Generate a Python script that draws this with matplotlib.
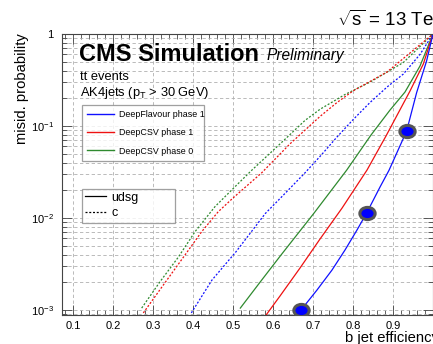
import matplotlib.pyplot as plt
from matplotlib.lines import Line2D
from matplotlib.path import Path
from matplotlib.transforms import Affine2D
from matplotlib.ticker import MultipleLocator, LogLocator, NullFormatter

plt.rcParams['font.family'] = ['Liberation Sans', 'DejaVu Sans']
plt.rcParams['mathtext.fontset'] = 'custom'
plt.rcParams['mathtext.rm'] = 'Liberation Sans'
plt.rcParams['mathtext.it'] = 'Liberation Sans:italic'
plt.rcParams['mathtext.bf'] = 'Liberation Sans:bold'

# b-tag efficiency vs misid probability
deepflav_udsg_eff = [0.660, 0.670, 0.710, 0.7475, 0.780, 0.810, 0.834, 0.8675, 0.890, 0.934, 0.959, 0.984, 1.0]
deepflav_udsg_mis = [0.00088, 0.0010, 0.00165, 0.00272, 0.00449, 0.00741, 0.0113, 0.0217, 0.033, 0.088, 0.23, 0.51, 1.0]
deepflav_c_eff = [0.3958, 0.4475, 0.5075, 0.5808, 0.630, 0.680, 0.720, 0.760, 0.800, 0.8425, 0.885, 0.9258, 0.9675, 1.0]
deepflav_c_mis = [0.00093, 0.00212, 0.0043, 0.0112, 0.0185, 0.031, 0.048, 0.076, 0.117, 0.18, 0.265, 0.367, 0.60, 1.0]

csv1_udsg_eff = [0.5825, 0.6175, 0.6675, 0.7175, 0.7725, 0.835, 0.8825, 0.9425, 0.9758, 1.0]
csv1_udsg_mis = [0.00088, 0.00142, 0.00286, 0.00591, 0.0128, 0.0332, 0.0779, 0.24, 0.472, 1.0]
csv1_c_eff = [0.2758, 0.3258, 0.3758, 0.4217, 0.463, 0.500, 0.5717, 0.6425, 0.7175, 0.760, 0.8008, 0.8842, 1.0]
csv1_c_mis = [0.00093, 0.00187, 0.00374, 0.0071, 0.0117, 0.0165, 0.031, 0.064, 0.127, 0.18, 0.242, 0.384, 1.0]

csv0_udsg_eff = [0.5183, 0.570, 0.620, 0.7025, 0.7843, 0.845, 0.8925, 0.930, 0.9675, 1.0]
csv0_udsg_mis = [0.00105, 0.00207, 0.00396, 0.0113, 0.0332, 0.0798, 0.149, 0.234, 0.449, 1.0]
csv0_c_eff = [0.2717, 0.3175, 0.363, 0.405, 0.455, 0.5008, 0.5467, 0.6258, 0.680, 0.7175, 0.780, 0.8425, 0.9258, 1.0]
csv0_c_mis = [0.00105, 0.00203, 0.00374, 0.0071, 0.0133, 0.021, 0.033, 0.069, 0.115, 0.152, 0.22, 0.30, 0.49, 1.0]

# working points on the DeepFlavour udsg curve
wp_eff = [0.670, 0.834, 0.934]
wp_mis = [0.0010, 0.0113, 0.088]

taggers = ["DeepFlavour phase 1", "DeepCSV phase 1", "DeepCSV phase 0"]
flavours = ["udsg", "c"]
xtick_vals = [0.1, 0.2, 0.3, 0.4, 0.5, 0.6, 0.7, 0.8, 0.9]
ytick_vals = [1e-3, 1e-2, 1e-1, 1]
ytick_labels = [r'$10^{-3}$', r'$10^{-2}$', r'$10^{-1}$', '1']

W, H = 433, 344
fig = plt.figure(figsize=(W / 100, H / 100), dpi=100)
ax = fig.add_axes([62 / W, 1 - 315 / H, 1 - 62 / W, (315 - 34) / H])

blue, red, green = '#1010ff', '#ee1111', '#2f8a2f'
dot = (0, (1.6, 1.4))
lw = 0.9

ax.plot(csv0_c_eff, csv0_c_mis, color=green, lw=lw, ls=dot)
ax.plot(csv1_c_eff, csv1_c_mis, color=red, lw=lw, ls=dot)
ax.plot(deepflav_c_eff, deepflav_c_mis, color=blue, lw=lw, ls=dot)
ax.plot(csv0_udsg_eff, csv0_udsg_mis, color=green, lw=lw)
ax.plot(csv1_udsg_eff, csv1_udsg_mis, color=red, lw=lw)
ax.plot(deepflav_udsg_eff, deepflav_udsg_mis, color=blue, lw=lw)

ellipse = Affine2D().scale(1.25, 1.0).transform_path(Path.unit_circle())
ax.plot(wp_eff, wp_mis, ls='none', marker=ellipse, ms=11, mfc='#0000ff',
        mec='#555555', mew=2.2, zorder=5)

ax.set_yscale('log')
ax.set_xlim(0.0725, 1.0)
ax.set_ylim(8.83e-4, 1.0)

ax.set_xticks(xtick_vals)
ax.set_xticklabels([f'{v:.1f}' for v in xtick_vals])
ax.xaxis.set_minor_locator(MultipleLocator(0.02))
ax.set_yticks(ytick_vals)
ax.set_yticklabels(ytick_labels)
ax.yaxis.set_minor_locator(LogLocator(base=10, subs=range(2, 10)))
ax.yaxis.set_minor_formatter(NullFormatter())

ax.tick_params(which='both', direction='in', top=True, right=True, labelsize=8,
               color='#444444')
ax.tick_params(which='major', length=7, width=0.6)
ax.tick_params(which='minor', length=3.5, width=0.6)
ax.tick_params(axis='x', pad=4)
ax.tick_params(axis='y', pad=6)
for s in ax.spines.values():
    s.set_color('#444444')
    s.set_linewidth(0.8)

ax.grid(which='major', ls=(0, (4, 3)), color='#b0b0b0', lw=0.6)
ax.grid(which='minor', axis='y', ls=(0, (4, 3)), color='#b0b0b0', lw=0.6)
ax.set_axisbelow(True)

# legends
h1 = [Line2D([], [], color=c, lw=1.0) for c in (blue, red, green)]
leg1 = ax.legend(h1, taggers, loc='upper left', fontsize=6.4,
                 bbox_to_anchor=(82 / W, 1 - 108 / H, 122 / W, 0.01),
                 bbox_transform=fig.transFigure, mode='expand',
                 frameon=True, fancybox=False, edgecolor='#888888',
                 borderaxespad=0, handlelength=3.0, handletextpad=0.6,
                 labelspacing=1.05, borderpad=0.6)
leg1.get_frame().set_linewidth(0.9)
ax.add_artist(leg1)

h2 = [Line2D([], [], color='black', lw=0.9),
      Line2D([], [], color='black', lw=0.9, ls=dot)]
leg2 = ax.legend(h2, flavours, loc='upper left', fontsize=9,
                 bbox_to_anchor=(82 / W, 1 - 192 / H, 93 / W, 0.01),
                 bbox_transform=fig.transFigure, mode='expand',
                 frameon=True, fancybox=False, edgecolor='#888888',
                 borderaxespad=0, handlelength=1.7, handletextpad=0.4,
                 labelspacing=0.3, borderpad=0.25)
leg2.get_frame().set_linewidth(0.9)

# text
fig.text(79 / W, 1 - 61 / H, 'CMS Simulation', fontsize=17, fontweight='bold',
         va='baseline')
fig.text(267 / W, 1 - 60 / H, 'Preliminary', fontsize=11.2, style='italic',
         va='baseline')
fig.text(80 / W, 1 - 80 / H, 'tt events', fontsize=9.3, va='baseline')
fig.text(80 / W, 1 - 96 / H, r'AK4jets (p$_{\mathrm{T}}$ > 30 GeV)', fontsize=9.3,
         va='baseline')
fig.text(337 / W, 1 - 26 / H, r'$\sqrt{\mathrm{s}}$ = 13 TeV', fontsize=13.5,
         va='baseline')
fig.text(29 / W, 1 - 33 / H, 'misid. probability', fontsize=10.6, rotation=90,
         ha='right', va='bottom', rotation_mode='anchor')
fig.text(345 / W, 1 - 342 / H, 'b jet efficiency', fontsize=10.6, va='baseline')

fig.savefig('out.png', dpi=100)
